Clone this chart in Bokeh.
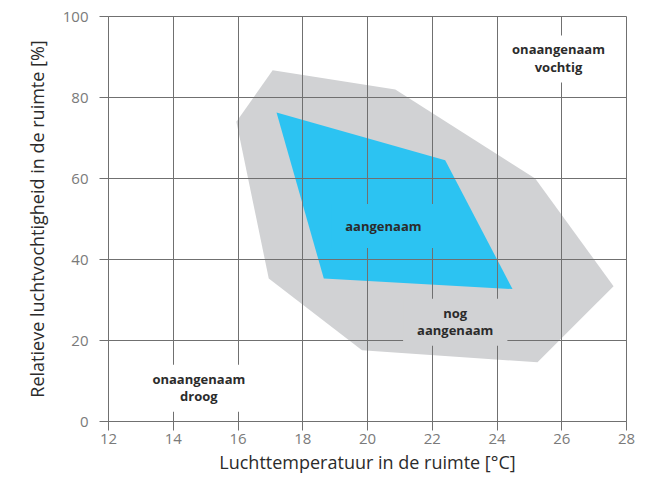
from bokeh.plotting import figure
from bokeh.models import Label
from bokeh.embed import file_html
from bokeh.resources import INLINE

# Data
x_ticks = [12, 14, 16, 18, 20, 22, 24, 26, 28]
y_ticks = [0, 20, 40, 60, 80, 100]

still_ok_temp = [15.95, 17.07, 20.86, 25.18, 27.6, 25.25, 19.83, 16.95]
still_ok_hum = [74.0, 86.7, 82.0, 60.0, 33.4, 14.6, 17.6, 35.3]

comfort_temp = [17.19, 22.4, 24.48, 18.65]
comfort_hum = [76.3, 64.5, 32.7, 35.3]

GRID = "#707070"
TXT = "#2b2b2b"
FONT = "Open Sans"

p = figure(width=642, height=478, x_range=(12, 28), y_range=(0, 100),
           output_backend="svg", toolbar_location=None,
           min_border_left=108, min_border_right=16,
           min_border_top=16, min_border_bottom=57)

p.patch(still_ok_temp, still_ok_hum, fill_color="#d1d2d4", line_color=None)
p.patch(comfort_temp, comfort_hum, fill_color="#2cc3f2", line_color=None)

for g in (p.xgrid, p.ygrid):
    g.level = "guide"
    g.grid_line_color = GRID
    g.grid_line_width = 1
p.xgrid.ticker = x_ticks
p.ygrid.ticker = y_ticks
p.outline_line_color = GRID
p.outline_line_width = 1

p.xaxis.ticker = x_ticks
p.yaxis.ticker = y_ticks
for ax in (p.xaxis, p.yaxis):
    ax.axis_line_color = GRID
    ax.major_tick_line_color = GRID
    ax.major_tick_out = 9
    ax.major_tick_in = 0
    ax.minor_tick_line_color = None
    ax.major_label_text_font = FONT
    ax.major_label_text_font_size = "15px"
    ax.major_label_text_color = "#7a7a7a"
    ax.axis_label_text_font = FONT
    ax.axis_label_text_font_size = "18px"
    ax.axis_label_text_font_style = "normal"
    ax.axis_label_text_color = TXT

p.xaxis.axis_label = "Luchttemperatuur in de ruimte [°C]"
p.yaxis.axis_label = "Relatieve luchtvochtigheid in de ruimte [%]"
p.xaxis.major_label_standoff = 3
p.yaxis.major_label_standoff = 11
p.xaxis.axis_label_standoff = 3
p.yaxis.axis_label_standoff = 11

def add_label(x, y, text, bg, pad):
    p.add_layout(Label(x=x, y=y, text=text, text_align="center",
                       text_baseline="middle", text_font=FONT,
                       text_font_size="13px", text_font_style="bold",
                       text_color=TXT, text_line_height=0.95,
                       background_fill_color=bg, padding=pad))

two_line_pad = dict(left=14, right=14, top=5, bottom=7)
add_label(25.9, 89.5, "onaangenaam\nvochtig", "white", two_line_pad)
add_label(20.49, 48.3, "aangenaam", "#2cc3f2",
          dict(left=14, right=14, top=13, bottom=13))
add_label(22.71, 24.5, "nog\naangenaam", "#d1d2d4", two_line_pad)
add_label(14.79, 8.2, "onaangenaam\ndroog", "white", two_line_pad)

open("out.html", "w").write(file_html(p, INLINE))
